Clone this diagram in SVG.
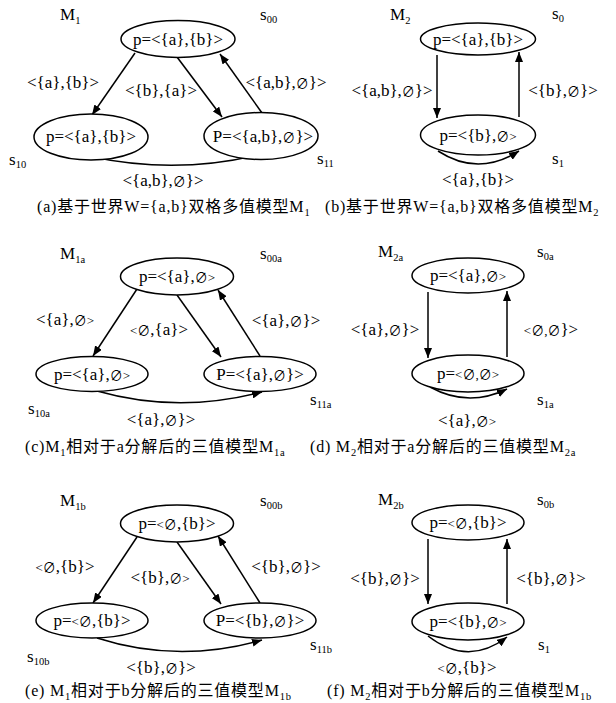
<svg xmlns="http://www.w3.org/2000/svg" width="616" height="703" viewBox="0 0 616 703">
<defs>
<style>
text{font-family:"Liberation Serif","Noto Sans CJK SC",serif;font-size:17px;fill:#000}
.m{text-anchor:middle}
.e{font-size:13px}
.sub{font-size:10.5px}
.cap{font-size:16px;letter-spacing:0.8px}
ellipse{fill:#fff;stroke:#000;stroke-width:1.5}
.ln{fill:none;stroke:#000;stroke-width:1.5}
</style>
<marker id="ah" viewBox="0 0 10 8" refX="10" refY="4" markerWidth="10" markerHeight="8" orient="auto" markerUnits="userSpaceOnUse"><path d="M0,0 L10,4 L0,8 z" fill="#000"/></marker>
</defs>
<rect width="616" height="703" fill="#fff"/>

<g id="connectors">
<!-- (a) -->
<path class="ln" d="M135,53 L92,115" marker-end="url(#ah)"/>
<path class="ln" d="M177,57 L222,117" marker-end="url(#ah)"/>
<path class="ln" d="M262,113 L220,54" marker-end="url(#ah)"/>
<path class="ln" d="M93,157 Q178,175 262,154" marker-end="url(#ah)"/>
<text class="m" x="63" y="88">&lt;{a},{b}&gt;</text>
<text class="m" x="161" y="96">&lt;{b},{a}&gt;</text>
<text class="m" x="286" y="88">&lt;{a,b},<tspan class="e">∅</tspan>}&gt;</text>
<text class="m" x="163" y="186">&lt;{a,b},<tspan class="e">∅</tspan>}&gt;</text>
<!-- (b) -->
<path class="ln" d="M437,55 L437,118" marker-end="url(#ah)"/>
<path class="ln" d="M519,117 L519,52" marker-end="url(#ah)"/>
<path class="ln" d="M438,151 Q478,177 519,151" marker-end="url(#ah)"/>
<text class="m" x="392" y="96">&lt;{a,b},<tspan class="e">∅</tspan>}&gt;</text>
<text class="m" x="563" y="96">&lt;{b},<tspan class="e">∅</tspan>}&gt;</text>
<text class="m" x="478" y="185">&lt;{a},{b}&gt;</text>
<!-- (c) -->
<path class="ln" d="M137,289 L93,356" marker-end="url(#ah)"/>
<path class="ln" d="M177,295 L221,357" marker-end="url(#ah)"/>
<path class="ln" d="M260,356 L218,290" marker-end="url(#ah)"/>
<path class="ln" d="M97,391 Q178,414 262,392" marker-end="url(#ah)"/>
<text class="m" x="65" y="325">&lt;{a},<tspan class="e">∅&gt;</tspan></text>
<text class="m" x="159" y="335"><tspan class="e">&lt;∅</tspan>,{a}&gt;</text>
<text class="m" x="286" y="326">&lt;{a},<tspan class="e">∅</tspan>}&gt;</text>
<text class="m" x="161" y="425">&lt;{a},<tspan class="e">∅</tspan>}&gt;</text>
<!-- (d) -->
<path class="ln" d="M428,292 L428,358" marker-end="url(#ah)"/>
<path class="ln" d="M507,357 L507,291" marker-end="url(#ah)"/>
<path class="ln" d="M430,387 Q468,408 507,389" marker-end="url(#ah)"/>
<text class="m" x="385" y="335">&lt;{a},<tspan class="e">∅</tspan>}&gt;</text>
<text class="m" x="551" y="335"><tspan class="e">&lt;∅,∅</tspan>}&gt;</text>
<text class="m" x="467" y="426">&lt;{a},<tspan class="e">∅&gt;</tspan></text>
<!-- (e) -->
<path class="ln" d="M137,537 L93,603" marker-end="url(#ah)"/>
<path class="ln" d="M177,542 L221,604" marker-end="url(#ah)"/>
<path class="ln" d="M260,603 L218,536" marker-end="url(#ah)"/>
<path class="ln" d="M97,638 Q178,664 262,640" marker-end="url(#ah)"/>
<text class="m" x="65" y="572"><tspan class="e">&lt;∅</tspan>,{b}&gt;</text>
<text class="m" x="160" y="583">&lt;{b},<tspan class="e">∅&gt;</tspan></text>
<text class="m" x="286" y="572">&lt;{b},<tspan class="e">∅</tspan>}&gt;</text>
<text class="m" x="161" y="673">&lt;{b},<tspan class="e">∅</tspan>}&gt;</text>
<!-- (f) -->
<path class="ln" d="M428,539 L428,604" marker-end="url(#ah)"/>
<path class="ln" d="M507,604 L507,539" marker-end="url(#ah)"/>
<path class="ln" d="M428,636 Q468,667 507,637" marker-end="url(#ah)"/>
<text class="m" x="385" y="584">&lt;{b},<tspan class="e">∅</tspan>}&gt;</text>
<text class="m" x="551" y="584">&lt;{b},<tspan class="e">∅</tspan>}&gt;</text>
<text class="m" x="467" y="673"><tspan class="e">&lt;∅</tspan>,{b}&gt;</text>
</g>

<!-- panel (a) -->
<g id="a-title"><text x="60" y="20">M<tspan class="sub" dy="4">1</tspan></text></g>
<g id="a-s00"><ellipse cx="178" cy="39" rx="57" ry="18.5"/><text class="m" x="178" y="45">p=&lt;{a},{b}&gt;</text><text x="260" y="20">s<tspan class="sub" dy="3">00</tspan></text></g>
<g id="a-s10"><ellipse cx="91" cy="137" rx="57" ry="23"/><text class="m" x="91" y="142">p=&lt;{a},{b}&gt;</text><text x="9" y="165">s<tspan class="sub" dy="3">10</tspan></text></g>
<g id="a-s11"><ellipse cx="261" cy="136" rx="57" ry="23.5"/><text class="m" x="263" y="142">P=&lt;{a,b},<tspan class="e">∅</tspan>}&gt;</text><text x="317" y="164">s<tspan class="sub" dy="3">11</tspan></text></g>

<!-- panel (b) -->
<g id="b-title"><text x="390" y="20">M<tspan class="sub" dy="4">2</tspan></text></g>
<g id="b-s0"><ellipse cx="478" cy="39" rx="57.5" ry="16"/><text class="m" x="478" y="45">p=&lt;{a},{b}&gt;</text><text x="552" y="19">s<tspan class="sub" dy="3">0</tspan></text></g>
<g id="b-s1"><ellipse cx="478" cy="135" rx="57.5" ry="20"/><text class="m" x="478" y="141">p=&lt;{b},<tspan class="e">∅&gt;</tspan></text><text x="552" y="164">s<tspan class="sub" dy="3">1</tspan></text></g>

<!-- panel (c) -->
<g id="c-title"><text x="60" y="259">M<tspan class="sub" dy="4">1a</tspan></text></g>
<g id="c-s00a"><ellipse cx="177" cy="276.5" rx="56.5" ry="18.5"/><text class="m" x="177" y="282">p=&lt;{a},<tspan class="e">∅&gt;</tspan></text><text x="260" y="259">s<tspan class="sub" dy="3">00a</tspan></text></g>
<g id="c-s10a"><ellipse cx="92" cy="374" rx="56" ry="17.5"/><text class="m" x="92" y="380">p=&lt;{a},<tspan class="e">∅&gt;</tspan></text><text x="28" y="414">s<tspan class="sub" dy="3">10a</tspan></text></g>
<g id="c-s11a"><ellipse cx="260" cy="374" rx="56" ry="17.5"/><text class="m" x="260" y="380">P=&lt;{a},<tspan class="e">∅</tspan>}&gt;</text><text x="310" y="405">s<tspan class="sub" dy="3">11a</tspan></text></g>

<!-- panel (d) -->
<g id="d-title"><text x="378" y="257">M<tspan class="sub" dy="4">2a</tspan></text></g>
<g id="d-s0a"><ellipse cx="468" cy="275.5" rx="56" ry="17.5"/><text class="m" x="468" y="281">p=&lt;{a},<tspan class="e">∅&gt;</tspan></text><text x="537" y="257">s<tspan class="sub" dy="3">0a</tspan></text></g>
<g id="d-s1a"><ellipse cx="468" cy="373.5" rx="56" ry="18.5"/><text class="m" x="468" y="379">p=<tspan class="e">&lt;∅,∅&gt;</tspan></text><text x="537" y="405">s<tspan class="sub" dy="3">1a</tspan></text></g>

<!-- panel (e) -->
<g id="e-title"><text x="60" y="506">M<tspan class="sub" dy="4">1b</tspan></text></g>
<g id="e-s00b"><ellipse cx="177" cy="523.5" rx="56.5" ry="18.5"/><text class="m" x="177" y="529">p=<tspan class="e">&lt;∅</tspan>,{b}&gt;</text><text x="260" y="506">s<tspan class="sub" dy="3">00b</tspan></text></g>
<g id="e-s10b"><ellipse cx="92" cy="620.5" rx="56" ry="17.5"/><text class="m" x="92" y="626">p=<tspan class="e">&lt;∅</tspan>,{b}&gt;</text><text x="27" y="662">s<tspan class="sub" dy="3">10b</tspan></text></g>
<g id="e-s11b"><ellipse cx="260" cy="620.5" rx="56" ry="17.5"/><text class="m" x="260" y="626">P=&lt;{b},<tspan class="e">∅</tspan>}&gt;</text><text x="310" y="650">s<tspan class="sub" dy="3">11b</tspan></text></g>

<!-- panel (f) -->
<g id="f-title"><text x="378" y="505">M<tspan class="sub" dy="4">2b</tspan></text></g>
<g id="f-s0b"><ellipse cx="468" cy="522.5" rx="56" ry="17.5"/><text class="m" x="468" y="528">p=<tspan class="e">&lt;∅</tspan>,{b}&gt;</text><text x="537" y="505">s<tspan class="sub" dy="3">0b</tspan></text></g>
<g id="f-s1"><ellipse cx="468" cy="621.5" rx="56" ry="18.5"/><text class="m" x="468" y="627">p=&lt;{b},<tspan class="e">∅&gt;</tspan></text><text x="538" y="650">s<tspan class="sub" dy="3">1</tspan></text></g>

<g id="captions">
<text class="cap" x="37" y="212">(a)基于世界W={a,b}双格多值模型M<tspan class="sub" dy="4">1</tspan></text>
<text class="cap" x="325" y="212">(b)基于世界W={a,b}双格多值模型M<tspan class="sub" dy="4">2</tspan></text>
<text class="cap" x="25" y="452">(c)M<tspan class="sub" dy="4">1</tspan><tspan dy="-4">相对于a分解后的三值模型M</tspan><tspan class="sub" dy="4">1a</tspan></text>
<text class="cap" x="310" y="452">(d) M<tspan class="sub" dy="4">2</tspan><tspan dy="-4">相对于a分解后的三值模型M</tspan><tspan class="sub" dy="4">2a</tspan></text>
<text class="cap" x="25" y="696">(e) M<tspan class="sub" dy="4">1</tspan><tspan dy="-4">相对于b分解后的三值模型M</tspan><tspan class="sub" dy="4">1b</tspan></text>
<text class="cap" x="327" y="696">(f) M<tspan class="sub" dy="4">2</tspan><tspan dy="-4">相对于b分解后的三值模型M</tspan><tspan class="sub" dy="4">1b</tspan></text>
</g>
</svg>
